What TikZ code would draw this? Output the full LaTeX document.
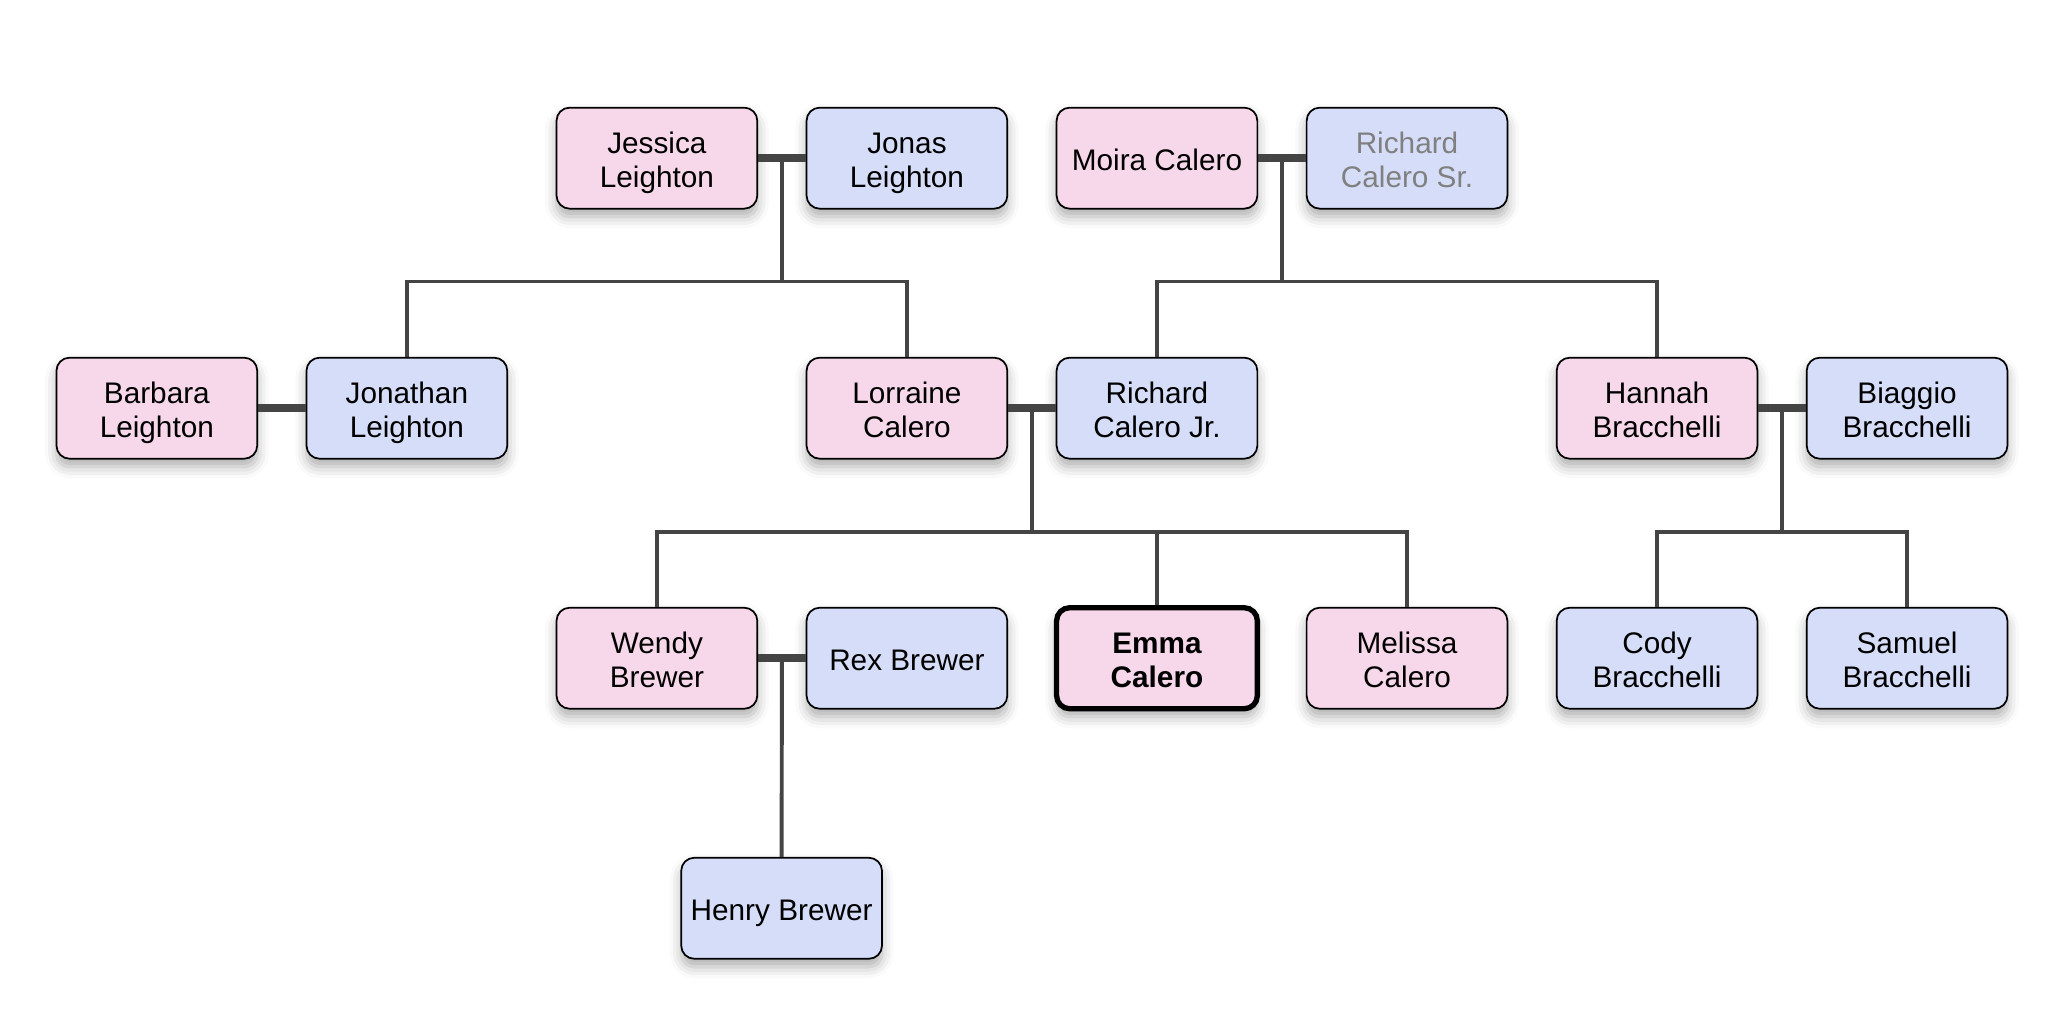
\documentclass[tikz,border=0pt]{standalone}
\usepackage{fontspec}
\setmainfont{Liberation Sans}
\usetikzlibrary{shadows.blur}
\definecolor{herfill}{RGB}{246,216,234}
\definecolor{himfill}{RGB}{214,221,248}
\definecolor{linkgray}{RGB}{68,68,68}
\tikzset{
 person/.style={draw=black,line width=.75pt,rounded corners=.2cm,minimum width=3.06cm,minimum height=1.54cm,align=center,
  font=\fontsize{12.9}{14.8}\selectfont,text height=13.1pt,text depth=2.5pt,
  blur shadow={shadow xshift=0pt,shadow yshift=-3.5pt,shadow blur radius=5pt,shadow opacity=32}},
 twoline/.style={text height=27.9pt},
 her/.style={person,fill=herfill},
 him/.style={person,fill=himfill},
 couple/.style={linkgray,line width=3.4pt},
 child/.style={linkgray,line width=1.7pt}
}
\begin{document}
\begin{tikzpicture}[x=.02cm,y=-.02cm]
\useasboundingbox (0,0) rectangle (1568,788);
\coordinate (bus1) at (0,214.5);
\coordinate (bus2) at (0,405.5);
% grandparents
\node[her,twoline] (jessica) at (500.5,120.5) {Jessica\\Leighton};
\node[him,twoline] (jonas) at (691,120.5) {Jonas\\Leighton};
\node[her] (moira) at (881.5,120.5) {Moira Calero};
\node[him,twoline,text=gray] (richardsr) at (1072,120.5) {Richard\\Calero Sr.};
% parents
\node[her,twoline] (barbara) at (119.5,311) {Barbara\\Leighton};
\node[him,twoline] (jonathan) at (310,311) {Jonathan\\Leighton};
\node[her,twoline] (lorraine) at (691,311) {Lorraine\\Calero};
\node[him,twoline] (richardjr) at (881.5,311) {Richard\\Calero Jr.};
\node[her,twoline] (hannah) at (1262.5,311) {Hannah\\Bracchelli};
\node[him,twoline] (biaggio) at (1453,311) {Biaggio\\Bracchelli};
% children
\node[her,twoline] (wendy) at (500.5,501.5) {Wendy\\Brewer};
\node[him] (rex) at (691,501.5) {Rex Brewer};
\node[her,twoline,line width=2.3pt,font=\fontsize{12.9}{14.8}\selectfont\bfseries] (emma) at (881.5,501.5) {Emma\\Calero};
\node[her,twoline] (melissa) at (1072,501.5) {Melissa\\Calero};
\node[him,twoline] (cody) at (1262.5,501.5) {Cody\\Bracchelli};
\node[him,twoline] (samuel) at (1453,501.5) {Samuel\\Bracchelli};
\node[him] (henry) at (595.5,692) {Henry Brewer};
% couples
\draw[couple] (jessica) -- coordinate (jj) (jonas);
\draw[couple] (moira) -- coordinate (mr) (richardsr);
\draw[couple] (barbara) -- (jonathan);
\draw[couple] (lorraine) -- coordinate (lr) (richardjr);
\draw[couple] (hannah) -- coordinate (hb) (biaggio);
\draw[couple] (wendy) -- coordinate (wr) (rex);
% descent
\draw[child] (jj) -- (jj |- bus1);
\draw[child] (jonathan.north) |- (lorraine.north |- bus1) -- (lorraine.north);
\draw[child] (mr) -- (mr |- bus1);
\draw[child] (richardjr.north) |- (hannah.north |- bus1) -- (hannah.north);
\draw[child] (lr) -- (lr |- bus2);
\draw[child] (wendy.north) |- (melissa.north |- bus2) -- (melissa.north);
\draw[child] (emma.north) -- (emma.north |- bus2);
\draw[child] (hb) -- (hb |- bus2);
\draw[child] (cody.north) |- (samuel.north |- bus2) -- (samuel.north);
\draw[child] (wr) -- (henry.north);
\end{tikzpicture}
\end{document}
